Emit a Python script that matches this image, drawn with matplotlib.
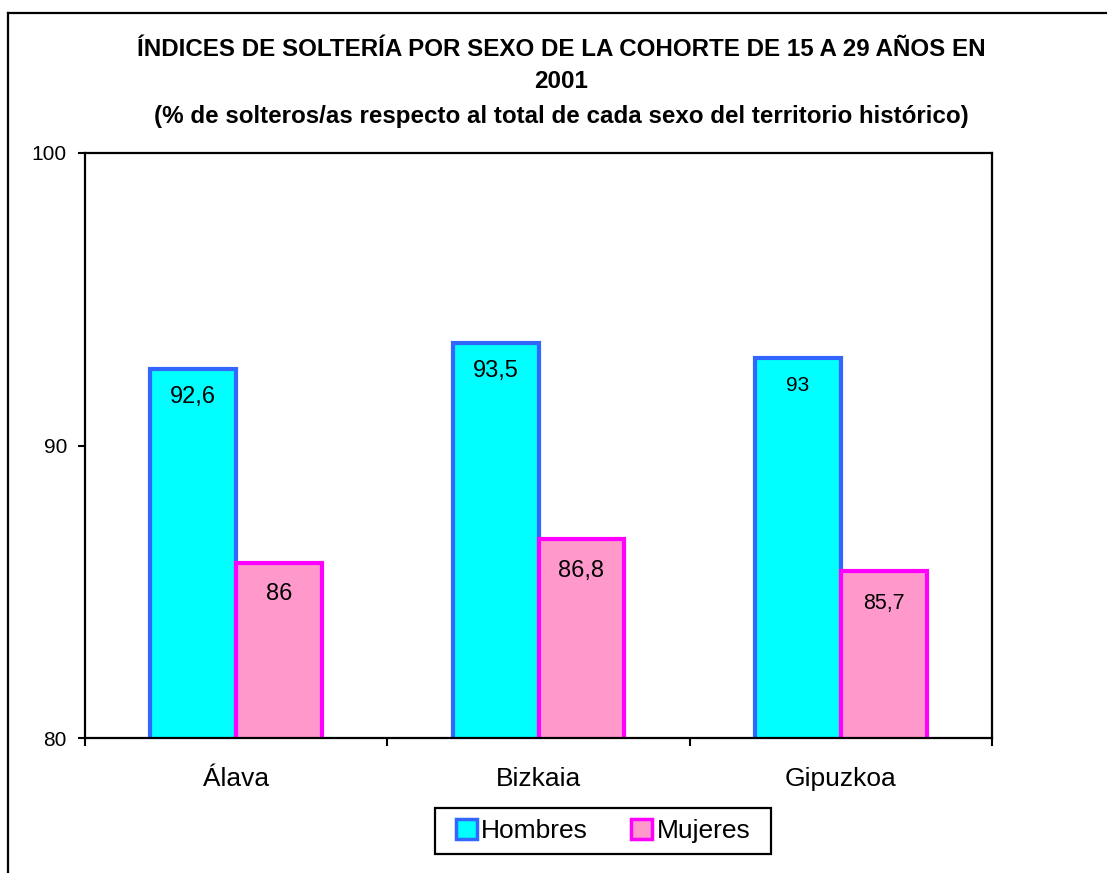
import matplotlib
matplotlib.use('Agg')
import matplotlib.pyplot as plt
from matplotlib.lines import Line2D
from matplotlib.patches import Rectangle
import numpy as np

plt.rcParams['font.family'] = ['Liberation Sans', 'DejaVu Sans']

# Data
territorios = ['Álava', 'Bizkaia', 'Gipuzkoa']
hombres = [92.6, 93.5, 93.0]
mujeres = [86.0, 86.8, 85.7]
hombres_txt = ['92,6', '93,5', '93']
mujeres_txt = ['86', '86,8', '85,7']
y_ticks = [80, 90, 100]

title_lines = ['ÍNDICES DE SOLTERÍA POR SEXO DE LA COHORTE DE 15 A 29 AÑOS EN',
               '2001',
               '(% de solteros/as respecto al total de cada sexo del territorio histórico)']

W, H = 1107, 873
fig = plt.figure(figsize=(W / 100, H / 100), dpi=100)
fig.patch.set_facecolor('white')

# outer frame (only left and top visible in the crop)
fig.add_artist(Line2D([8 / W, 8 / W], [0, 1 - 13 / H], transform=fig.transFigure,
                      color='black', lw=1.6))
fig.add_artist(Line2D([8 / W, 1.0], [1 - 13 / H, 1 - 13 / H], transform=fig.transFigure,
                      color='black', lw=1.6))

ax = fig.add_axes([85 / W, (H - 738) / H, 907 / W, 585 / H])

x = np.arange(len(territorios))
w = 0.284
ax.bar(x - w / 2, hombres, width=w, color='#00FFFF', edgecolor='#3366FF',
       linewidth=3.0, label='Hombres', zorder=2)
ax.bar(x + w / 2, mujeres, width=w, color='#FF99CC', edgecolor='#FF00FF',
       linewidth=3.0, label='Mujeres', zorder=2)

# value labels inside the top of each bar
small = {'93', '85,7'}
for xi, v, t in zip(x, hombres, hombres_txt):
    ax.annotate(t, (xi - w / 2, v), xytext=(0, -20), textcoords='offset points',
                ha='center', va='center', fontsize=15 if t in small else 17)
for xi, v, t in zip(x, mujeres, mujeres_txt):
    ax.annotate(t, (xi + w / 2, v), xytext=(0, -23), textcoords='offset points',
                ha='center', va='center', fontsize=15.5 if t in small else 17)

ax.set_xlim(-0.5, len(territorios) - 0.5)
ax.set_ylim(80, 100)
ax.set_yticks(y_ticks)
ax.set_yticklabels([str(t) for t in y_ticks], fontsize=15)
ax.set_xticks(np.arange(len(territorios) + 1) - 0.5)
ax.set_xticklabels([])
ax.set_xticks(x, minor=True)
ax.set_xticklabels(territorios, minor=True, fontsize=19)
ax.tick_params(axis='x', which='minor', length=0, pad=21)
ax.tick_params(axis='x', which='major', length=6, width=1.5, direction='out')
ax.tick_params(axis='y', length=5, width=1.5, direction='out', pad=8)
for s in ax.spines.values():
    s.set_linewidth(1.6)

# title
title_y = [50, 82, 116]
for line, yy in zip(title_lines, title_y):
    fig.text(561 / W, 1 - yy / H, line, ha='center', va='center',
             fontsize=17.4, fontweight='bold')

# legend (frame drawn separately so the padding can be wider than tall)
fig.add_artist(Rectangle((435 / W, 1 - 854 / H), 336 / W, 46 / H,
                         transform=fig.transFigure, facecolor='white',
                         edgecolor='black', lw=1.6, zorder=3))
leg = fig.legend(loc='center', bbox_to_anchor=(603 / W, 1 - 831 / H), ncol=2,
                 fontsize=19, frameon=False, handlelength=0.8, handleheight=0.8,
                 handletextpad=0.15, columnspacing=1.65, borderpad=0.2)
leg.set_zorder(4)
for p in leg.get_patches():
    p.set_linewidth(2.5)

fig.savefig('out.png', dpi=100)
